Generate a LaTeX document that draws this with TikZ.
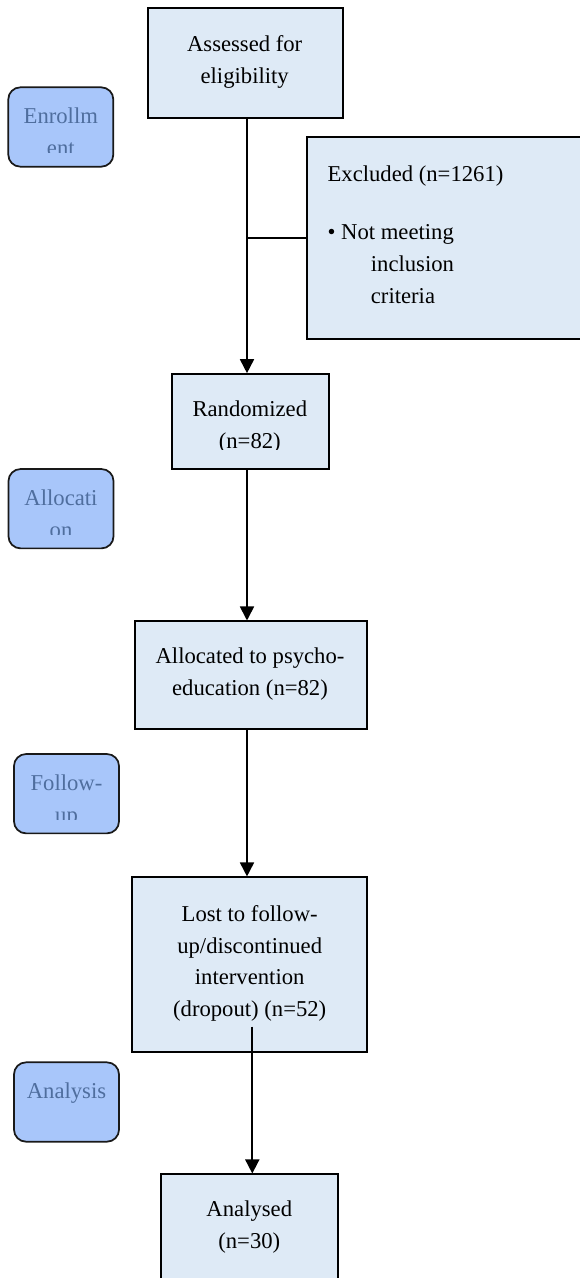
\documentclass[tikz,border=0pt]{standalone}
\usepackage{fontspec}
\setmainfont{Liberation Serif}
\usetikzlibrary{arrows.meta,positioning}

\definecolor{boxblue}{RGB}{222,234,246}
\definecolor{stageblue}{RGB}{168,198,250}
\definecolor{stageink}{RGB}{79,110,158}

\begin{document}
\begin{tikzpicture}[x=0.75pt,y=-0.75pt,
		flowbox/.style={draw=black,fill=boxblue,line width=1.3pt,inner sep=0pt},
		stagebox/.style={draw=black!90,fill=stageblue,line width=1.3pt,rounded corners=9pt,inner sep=0pt,
			minimum width=78.75pt,minimum height=59.5pt},
		flowtext/.style={anchor=base,align=center,inner sep=0pt,font=\fontsize{17}{23.8}\selectfont},
		stagetext/.style={flowtext,text=stageink},
		flowarrow/.style={line width=1.3pt,-{Triangle[width=10.5pt,length=10.5pt]}}]
		\useasboundingbox (0,0) rectangle (579,1278);
		
		% flow boxes: name / centre x / centre y / width / height (px)
		\foreach \mynode/\myx/\myy/\myw/\myh in {assess/245.5/63.3/195/110,
			excl/448.5/238.3/283/202,rand/250.7/421.7/157.3/95.3,
			alloc/250.8/675.2/231.7/107.7,lost/249.5/964.8/234.4/175,
			anal/249.3/1237.2/177.3/125.7} {
			\node[flowbox,minimum width=\myw*0.75pt,minimum height=\myh*0.75pt] (\mynode) at (\myx,\myy) {};
		}
		
		% stage boxes on the left
		\foreach \mynode/\myx/\myy in {senrol/60.8/127,salloc/61/508.7,sfollow/66.5/793.7,sanal/66.5/1102} {
			\node[stagebox] (\mynode) at (\myx,\myy) {};
		}
		
		% stage labels, cut off at the foot of the box (base = last line)
		\foreach \mynode/\mydrop/\mytext in {senrol/51.9/{Enrollm\\ent},salloc/51.9/{Allocati\\on},
			sfollow/51.9/{Follow-\\up},sanal/28.1/Analysis} {
			\begin{scope}
				\clip (\mynode.north west) rectangle ([yshift=11.25pt]\mynode.south east);
				\node[stagetext] (\mynode-t) at ([yshift=-\mydrop pt]\mynode.north) {\mytext};
			\end{scope}
		}
		
		% box texts, placed on the baseline of their last line
		\node[flowtext] (assess-t) at (244.7,83.3) {Assessed for\\eligibility};
		\node[flowtext,anchor=base west,align=left] (excl-t) at (327.3,303.2)
			{Excluded (n=1261)\\[20pt]\textbullet\ Not meeting\\\hspace*{32.5pt}inclusion\\\hspace*{32.5pt}criteria};
		\begin{scope}
			\clip (rand.north west) rectangle ([yshift=15.75pt]rand.south east);
			\node[flowtext] (rand-t) at (249.8,448.7) {Randomized\\(n=82)};
		\end{scope}
		\node[flowtext] (alloc-t) at (250,695.7) {Allocated to psycho-\\education (n=82)};
		\node[flowtext] (lost-t) at (249.7,1016.7) {Lost to follow-\\up/discontinued\\intervention\\(dropout) (n=52)};
		\node[flowtext] (anal-t) at (249.3,1248.3) {Analysed\\(n=30)};
		
		% connectors
		\coordinate (spine) at (247,0);
		\coordinate (drop) at (252.3,1026.7);
		\draw[flowarrow] (assess.south -| spine) -- (rand.north -| spine);
		\draw[line width=1.3pt] (spine |- excl.west) -- (excl.west);
		\draw[flowarrow] (rand.south -| spine) -- (alloc.north -| spine);
		\draw[flowarrow] (alloc.south -| spine) -- (lost.north -| spine);
		\draw[flowarrow] (drop) -- (anal.north -| drop);
\end{tikzpicture}
\end{document}
